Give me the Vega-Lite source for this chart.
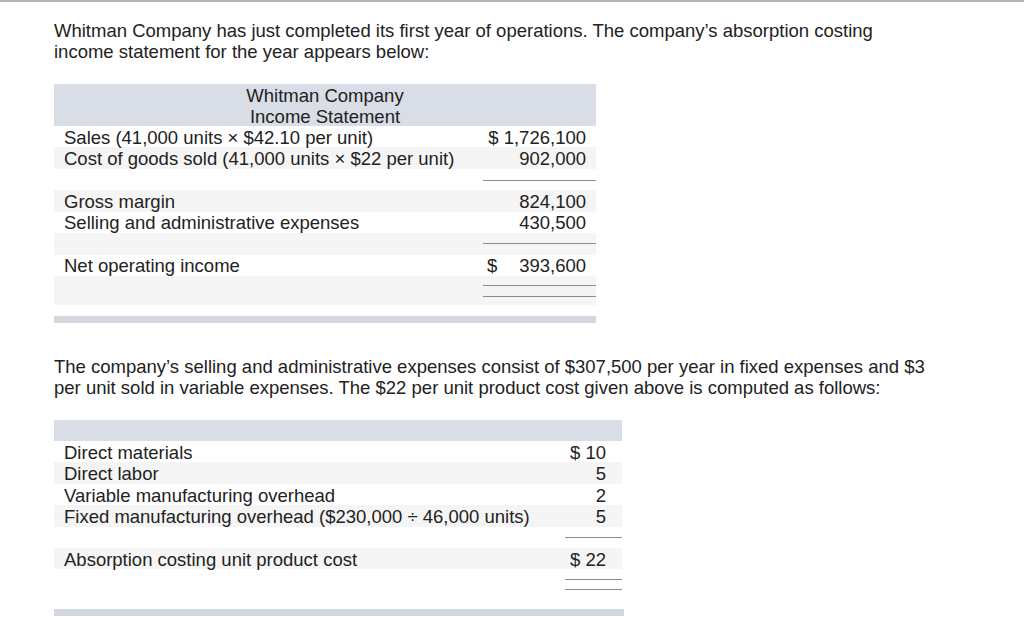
{
  "$schema": "https://vega.github.io/schema/vega-lite/v6.json",
  "width": 1024,
  "height": 641,
  "autosize": {"type": "fit", "contains": "padding"},
  "padding": 0,
  "background": "white",
  "config": {"view": {"stroke": null}},
  "datasets": {
    "panels": [
      {"kind": "border", "x": 0, "x2": 1024, "y": 0, "y2": 2},
      {"kind": "header", "x": 54, "x2": 596, "y": 84, "y2": 126},
      {"kind": "stripe", "x": 54, "x2": 596, "y": 147, "y2": 169},
      {"kind": "stripe", "x": 54, "x2": 596, "y": 190, "y2": 212},
      {"kind": "stripe", "x": 54, "x2": 596, "y": 233, "y2": 255},
      {"kind": "stripe", "x": 54, "x2": 596, "y": 276, "y2": 305},
      {"kind": "bar", "x": 54, "x2": 596, "y": 316, "y2": 323},
      {"kind": "header", "x": 54, "x2": 622, "y": 420, "y2": 441},
      {"kind": "stripe", "x": 54, "x2": 622, "y": 462, "y2": 484},
      {"kind": "stripe", "x": 54, "x2": 622, "y": 505, "y2": 527},
      {"kind": "stripe", "x": 54, "x2": 622, "y": 548, "y2": 569},
      {"kind": "bar", "x": 54, "x2": 624, "y": 609, "y2": 616}
    ],
    "underlines": [
      {"x": 483, "x2": 596, "y": 180.5},
      {"x": 483, "x2": 596, "y": 243.5},
      {"x": 483, "x2": 596, "y": 285.5},
      {"x": 483, "x2": 596, "y": 296.5},
      {"x": 565, "x2": 622, "y": 537.5},
      {"x": 565, "x2": 622, "y": 579.5},
      {"x": 565, "x2": 622, "y": 589.5}
    ],
    "leftText": [
      {"x": 54, "y": 31, "text": "Whitman Company has just completed its first year of operations. The company’s absorption costing"},
      {"x": 54, "y": 52, "text": "income statement for the year appears below:"},
      {"x": 64, "y": 138, "text": "Sales (41,000 units × $42.10 per unit)"},
      {"x": 64, "y": 159, "text": "Cost of goods sold (41,000 units × $22 per unit)"},
      {"x": 64, "y": 202, "text": "Gross margin"},
      {"x": 64, "y": 223, "text": "Selling and administrative expenses"},
      {"x": 64, "y": 266, "text": "Net operating income"},
      {"x": 487, "y": 266, "text": "$"},
      {"x": 54, "y": 367, "text": "The company’s selling and administrative expenses consist of $307,500 per year in fixed expenses and $3"},
      {"x": 54, "y": 388, "text": "per unit sold in variable expenses. The $22 per unit product cost given above is computed as follows:"},
      {"x": 64, "y": 453, "text": "Direct materials"},
      {"x": 64, "y": 474, "text": "Direct labor"},
      {"x": 64, "y": 495.5, "text": "Variable manufacturing overhead"},
      {"x": 64, "y": 517, "text": "Fixed manufacturing overhead ($230,000 ÷ 46,000 units)"},
      {"x": 64, "y": 559.5, "text": "Absorption costing unit product cost"}
    ],
    "centerText": [
      {"x": 325, "y": 96, "text": "Whitman Company"},
      {"x": 325, "y": 117, "text": "Income Statement"}
    ],
    "rightText": [
      {"x": 586, "y": 138, "text": "$ 1,726,100"},
      {"x": 586, "y": 159, "text": "902,000"},
      {"x": 586, "y": 202, "text": "824,100"},
      {"x": 586, "y": 223, "text": "430,500"},
      {"x": 586, "y": 266, "text": "393,600"},
      {"x": 606, "y": 453, "text": "$ 10"},
      {"x": 606, "y": 474, "text": "5"},
      {"x": 606, "y": 495.5, "text": "2"},
      {"x": 606, "y": 517, "text": "5"},
      {"x": 606, "y": 559.5, "text": "$ 22"}
    ]
  },
  "layer": [
    {
      "data": {"name": "panels"},
      "mark": {"type": "rect"},
      "encoding": {
        "x": {"field": "x", "type": "quantitative", "scale": {"domain": [0, 1024], "nice": false, "zero": false}, "axis": null},
        "x2": {"field": "x2"},
        "y": {"field": "y", "type": "quantitative", "scale": {"domain": [0, 641], "nice": false, "zero": false, "reverse": true}, "axis": null},
        "y2": {"field": "y2"},
        "color": {"field": "kind", "type": "nominal", "legend": null,
          "scale": {"domain": ["border", "header", "stripe", "bar"], "range": ["#b4b4b4", "#d9dde5", "#f5f5f5", "#d3d8e0"]}}
      }
    },
    {
      "data": {"name": "underlines"},
      "mark": {"type": "rule", "color": "#8c8c8c", "strokeWidth": 1},
      "encoding": {
        "x": {"field": "x", "type": "quantitative"},
        "x2": {"field": "x2"},
        "y": {"field": "y", "type": "quantitative"}
      }
    },
    {
      "data": {"name": "leftText"},
      "mark": {"type": "text", "align": "left", "baseline": "middle", "font": "Liberation Sans", "fontSize": 18.5, "color": "#222222"},
      "encoding": {
        "x": {"field": "x", "type": "quantitative"},
        "y": {"field": "y", "type": "quantitative"},
        "text": {"field": "text"}
      }
    },
    {
      "data": {"name": "centerText"},
      "mark": {"type": "text", "align": "center", "baseline": "middle", "font": "Liberation Sans", "fontSize": 18.5, "color": "#222222"},
      "encoding": {
        "x": {"field": "x", "type": "quantitative"},
        "y": {"field": "y", "type": "quantitative"},
        "text": {"field": "text"}
      }
    },
    {
      "data": {"name": "rightText"},
      "mark": {"type": "text", "align": "right", "baseline": "middle", "font": "Liberation Sans", "fontSize": 18.5, "color": "#222222"},
      "encoding": {
        "x": {"field": "x", "type": "quantitative"},
        "y": {"field": "y", "type": "quantitative"},
        "text": {"field": "text"}
      }
    }
  ]
}
